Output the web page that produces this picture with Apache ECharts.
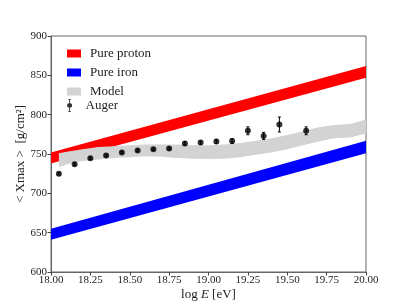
<!DOCTYPE html>
<html><head><meta charset="utf-8">
<script src="https://cdn.jsdelivr.net/npm/echarts@6/dist/echarts.min.js"></script>
<style>html,body{margin:0;padding:0;background:#fff}#c{width:407px;height:305px}</style>
</head><body><div id="c"></div>
<script>
// Bands: [logE, lower, upper]
var protonBand = [[18.0, 738, 752], [20.0, 847, 862]];
var ironBand = [[18.0, 641, 655], [20.0, 751, 767]];
var modelLogE = [18.05, 18.1, 18.2, 18.3, 18.4, 18.5, 18.6, 18.7, 18.8, 18.9, 19.0, 19.1, 19.2, 19.3, 19.4, 19.5, 19.6, 19.7, 19.8, 19.9, 20.0];
var modelLow  = [733, 737, 741, 743, 745, 746, 747, 746.5, 745, 744, 743.5, 744, 746, 749, 752, 756, 761, 766, 770, 771, 776];
var modelHigh = [751, 753, 756, 759, 760, 761, 762, 762, 762, 761, 761, 762, 764, 767, 770, 774, 779, 784, 787, 788, 794];
// Auger data
var augerLogE = [18.05, 18.15, 18.25, 18.35, 18.45, 18.55, 18.65, 18.75, 18.85, 18.95, 19.05, 19.15, 19.25, 19.35, 19.45, 19.62];
var augerXmax = [725, 737, 744.5, 748, 752, 754.5, 756, 757, 763.5, 764.5, 766, 766.5, 779.5, 773, 787.5, 779.5];
var augerErr  = [1.5, 1.5, 1.5, 1.5, 1.5, 1.5, 1.5, 1.5, 2, 2, 2.5, 3, 5, 4.5, 9.5, 5];
var xTicks = [18.0, 18.25, 18.5, 18.75, 19.0, 19.25, 19.5, 19.75, 20.0];
var yTicks = [600, 650, 700, 750, 800, 850, 900];

function bandSeries(name, color, rows) {
  return {
    type: 'custom', name: name, itemStyle: {color: color},
    data: rows, encode: {x: 0, y: [1, 2]}, z: 1,
    renderItem: function (params, api) {
      if (params.dataIndex !== 0) return null;
      var pts = [], i;
      for (i = 0; i < rows.length; i++) pts.push(api.coord([rows[i][0], rows[i][1]]));
      for (i = rows.length - 1; i >= 0; i--) pts.push(api.coord([rows[i][0], rows[i][2]]));
      return {type: 'polygon', shape: {points: pts}, style: {fill: color, stroke: null}};
    }
  };
}
var modelRows = modelLogE.map(function (x, i) { return [x, modelLow[i], modelHigh[i]]; });
var augerPts = augerLogE.map(function (x, i) { return [x, augerXmax[i]]; });
var augerErrRows = augerLogE.map(function (x, i) { return [x, augerXmax[i] - augerErr[i], augerXmax[i] + augerErr[i]]; });

var font = 'Liberation Serif';
var chart = echarts.init(document.getElementById('c'));
chart.setOption({
  animation: false,
  grid: {left: 51, right: 41, top: 36, bottom: 33, show: true, borderColor: '#666', borderWidth: 1,
         containLabel: false, outerBoundsMode: 'none'},
  legend: [{
    orient: 'vertical', left: 62, top: 42, itemWidth: 14, itemHeight: 8, itemGap: 6,
    data: [{name: 'Pure proton', icon: 'rect'}, {name: 'Pure iron', icon: 'rect'}, {name: 'Model', icon: 'rect'}],
    textStyle: {fontFamily: font, fontSize: 13, color: '#222', padding: [0, 0, 0, 4]},
    selectedMode: false
  }, {
    orient: 'vertical', left: 62, top: 94, itemWidth: 14, itemHeight: 13,
    data: [{name: 'Auger', icon: 'path://M2,0 L5,0 L5,1 L4,1 L4,5 A1.9,1.9 0 0 1 4,10 L4,14 L5,14 L5,15 L2,15 L2,14 L3,14 L3,10 A1.9,1.9 0 0 1 3,5 L3,1 L2,1 Z'}],
    textStyle: {fontFamily: font, fontSize: 13, color: '#222', padding: [0, 0, 0, 4]},
    selectedMode: false
  }],
  xAxis: {
    type: 'value', min: 18, max: 20, interval: 0.25,
    name: '{a|log }{i|E}{a| [eV]}', nameLocation: 'middle', nameGap: 16, nameMoveOverlap: false,
    nameTextStyle: {rich: {a: {fontFamily: font, fontSize: 13, color: '#222'}, i: {fontFamily: font, fontSize: 13, fontStyle: 'italic', color: '#222'}}},
    axisLine: {lineStyle: {color: '#666'}},
    axisTick: {length: 3.5, lineStyle: {color: '#444'}},
    splitLine: {show: false},
    axisLabel: {fontFamily: font, fontSize: 11, color: '#222', margin: 3,
      formatter: function (v) { return v.toFixed(2); }}
  },
  yAxis: {
    type: 'value', min: 600, max: 900, interval: 50,
    name: '< Xmax >  [g/cm²]', nameLocation: 'middle', nameGap: 24, nameMoveOverlap: false,
    nameTextStyle: {fontFamily: font, fontSize: 13, color: '#222'},
    axisLine: {lineStyle: {color: '#666'}},
    axisTick: {length: 3.5, lineStyle: {color: '#444'}},
    splitLine: {show: false},
    axisLabel: {fontFamily: font, fontSize: 11, color: '#222', margin: 4}
  },
  series: [
    bandSeries('Pure proton', '#ff0000', protonBand),
    bandSeries('Pure iron', '#0000ff', ironBand),
    bandSeries('Model', '#d3d3d3', modelRows),
    {
      type: 'custom', name: 'AugerErr', data: augerErrRows, encode: {x: 0, y: [1, 2]}, z: 3,
      renderItem: function (params, api) {
        var lo = api.coord([api.value(0), api.value(1)]);
        var hi = api.coord([api.value(0), api.value(2)]);
        var s = {stroke: '#000', lineWidth: 1};
        return {type: 'group', children: [
          {type: 'line', shape: {x1: lo[0], y1: lo[1], x2: hi[0], y2: hi[1]}, style: s},
          {type: 'line', shape: {x1: lo[0] - 1.5, y1: lo[1], x2: lo[0] + 1.5, y2: lo[1]}, style: s},
          {type: 'line', shape: {x1: hi[0] - 1.5, y1: hi[1], x2: hi[0] + 1.5, y2: hi[1]}, style: s}
        ]};
      }
    },
    {
      type: 'scatter', name: 'Auger', data: augerPts, symbol: 'circle', symbolSize: 6,
      itemStyle: {color: '#000'}, z: 4
    }
  ]
});
</script></body></html>
